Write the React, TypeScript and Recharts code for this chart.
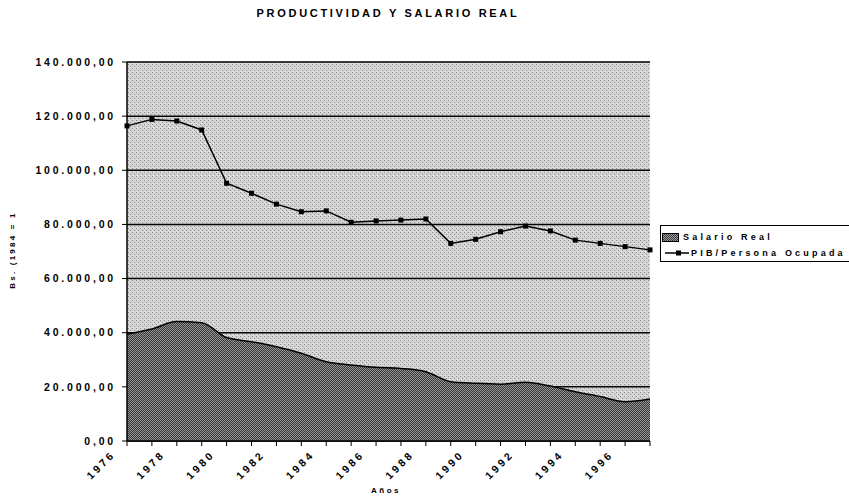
import React from 'react';
import {
  ComposedChart,
  Area,
  Line,
  XAxis,
  YAxis,
  CartesianGrid,
  Legend,
} from 'recharts';

const years = [
  1976, 1977, 1978, 1979, 1980, 1981, 1982, 1983, 1984, 1985, 1986,
  1987, 1988, 1989, 1990, 1991, 1992, 1993, 1994, 1995, 1996, 1997,
];

// Salario Real (area)
const salarioReal = [
  39500, 41400, 44100, 43700, 38200, 36700, 34800, 32400, 29300, 28100, 27200,
  26800, 25600, 21900, 21300, 21000, 21700, 20300, 18200, 16400, 14500, 15500,
];

// PIB / Persona Ocupada (line)
const pibPersona = [
  116400, 118800, 118200, 114900, 95200, 91500, 87500, 84700, 85000, 80800, 81300,
  81600, 82000, 73000, 74500, 77300, 79400, 77600, 74200, 73000, 71800, 70600,
];

const yTicks = [0, 20000, 40000, 60000, 80000, 100000, 120000, 140000];
const labeledYears = [1976, 1978, 1980, 1982, 1984, 1986, 1988, 1990, 1992, 1994, 1996];

const data = years.map((year, i) => ({
  year,
  salario: salarioReal[i],
  pib: pibPersona[i],
}));

// 140000 -> "140.000,00"
const formatNumber = (v: number) => {
  const int = Math.round(v).toString().replace(/\B(?=(\d{3})+(?!\d))/g, '.');
  return `${int},00`;
};

const FONT = '"Liberation Sans", Arial, sans-serif';

const YearTick = (props: any) => {
  const { x, y, payload } = props;
  if (!labeledYears.includes(payload.value)) return null;
  return (
    <text
      x={x - 11}
      y={y + 9}
      transform={`rotate(-45, ${x - 11}, ${y + 9})`}
      textAnchor="end"
      fontFamily={FONT}
      fontSize={10.5}
      fontWeight="bold"
      letterSpacing={3}
      fill="#000"
    >
      {payload.value}
    </text>
  );
};

const SquareDot = (props: any) => {
  const { cx, cy, index } = props;
  return <rect key={`dot-${index}`} x={cx - 2.5} y={cy - 2.5} width={5} height={5} fill="#000" />;
};

const LegendBox = () => (
  <div
    style={{
      border: '1px solid #000',
      background: '#fff',
      width: 200,
      height: 35,
      fontFamily: FONT,
      fontSize: 9,
      fontWeight: 'bold',
      letterSpacing: 3.2,
      whiteSpace: 'nowrap',
      color: '#000',
      position: 'relative',
    }}
  >
    <div style={{ position: 'absolute', left: 1, top: 6, height: 10, display: 'flex', alignItems: 'center' }}>
      <span
        style={{
          display: 'inline-block',
          width: 15,
          height: 7,
          border: '1px solid #000',
          background: 'repeating-conic-gradient(#3c3c3c 0% 25%, #9a9a9a 0% 50%) 0 0 / 2px 2px',
        }}
      />
      <span style={{ marginLeft: 4 }}>Salario Real</span>
    </div>
    <div style={{ position: 'absolute', left: 4, top: 22, height: 10, display: 'flex', alignItems: 'center' }}>
      <svg width={24} height={10}>
        <line x1={0} y1={5} x2={24} y2={5} stroke="#000" strokeWidth={1.5} />
        <rect x={11} y={2.5} width={5} height={5} fill="#000" />
      </svg>
      <span style={{ marginLeft: 2 }}>PIB/Persona Ocupada</span>
    </div>
  </div>
);

const App: React.FC = () => {
  return (
    <div
      style={{
        position: 'absolute',
        left: 0,
        top: 0,
        width: 849,
        height: 497,
        overflow: 'hidden',
        background: '#fff',
        fontFamily: FONT,
      }}
    >
      <ComposedChart
        width={849}
        height={497}
        data={data}
        margin={{ top: 62, right: 199, left: 0, bottom: 0 }}
      >
        <defs>
          <pattern id="bgPat" width="4" height="4" patternUnits="userSpaceOnUse">
            <rect width="4" height="4" fill="#d4d4d4" />
            <rect x="0" y="0" width="1" height="1" fill="#8a8a8a" />
            <rect x="2" y="2" width="1" height="1" fill="#8a8a8a" />
            <rect x="1" y="3" width="1" height="1" fill="#f2f2f2" />
          </pattern>
          <pattern id="areaPat" width="2" height="2" patternUnits="userSpaceOnUse">
            <rect width="2" height="2" fill="#363636" />
            <rect x="0" y="0" width="1" height="1" fill="#969696" />
            <rect x="1" y="1" width="1" height="1" fill="#969696" />
          </pattern>
        </defs>
        <CartesianGrid
          vertical={false}
          stroke="#000"
          strokeWidth={1.5}
          fill="url(#bgPat)"
          fillOpacity={1}
        />
        <XAxis
          dataKey="year"
          type="number"
          domain={[1976, 1997]}
          ticks={years}
          interval={0}
          height={56}
          tickSize={5}
          tickMargin={0}
          tickLine={{ stroke: '#000' }}
          axisLine={{ stroke: '#000', strokeWidth: 1.5 }}
          tick={<YearTick />}
        />
        <YAxis
          domain={[0, 140000]}
          ticks={yTicks}
          width={127}
          tickSize={5}
          tickMargin={6}
          tickLine={{ stroke: '#000' }}
          axisLine={{ stroke: '#000', strokeWidth: 1.5 }}
          tickFormatter={formatNumber}
          tick={{ fill: '#000', fontSize: 10.5, fontWeight: 'bold', letterSpacing: 2.8, fontFamily: FONT }}
        />
        <Area
          type="monotone"
          dataKey="salario"
          name="Salario Real"
          stroke="#000"
          strokeWidth={1.5}
          fill="url(#areaPat)"
          fillOpacity={1}
          isAnimationActive={false}
        />
        <Line
          type="linear"
          dataKey="pib"
          name="PIB/Persona Ocupada"
          stroke="#000"
          strokeWidth={1.5}
          dot={SquareDot}
          activeDot={false}
          isAnimationActive={false}
        />
        <Legend
          layout="horizontal"
          verticalAlign="middle"
          content={() => <LegendBox />}
          wrapperStyle={{ position: 'absolute', left: 660, top: 225, width: 200 }}
        />
      </ComposedChart>

      {/* titulo */}
      <div
        style={{
          position: 'absolute',
          left: 0,
          width: 776,
          top: 7,
          textAlign: 'center',
          fontSize: 11,
          fontWeight: 'bold',
          letterSpacing: 2.7,
          color: '#000',
        }}
      >
        PRODUCTIVIDAD Y SALARIO REAL
      </div>

      {/* eje Y */}
      <div
        style={{
          position: 'absolute',
          left: 12,
          top: 250,
          transform: 'translate(-50%, -50%) rotate(-90deg)',
          whiteSpace: 'nowrap',
          fontSize: 8,
          fontWeight: 'bold',
          letterSpacing: 2.2,
          color: '#000',
        }}
      >
        Bs. (1984 = 1
      </div>

      {/* eje X */}
      <div
        style={{
          position: 'absolute',
          left: 386,
          top: 490,
          transform: 'translate(-50%, -50%)',
          whiteSpace: 'nowrap',
          fontSize: 8,
          fontWeight: 'bold',
          letterSpacing: 2.5,
          color: '#000',
        }}
      >
        Años
      </div>
    </div>
  );
};

export default App;
